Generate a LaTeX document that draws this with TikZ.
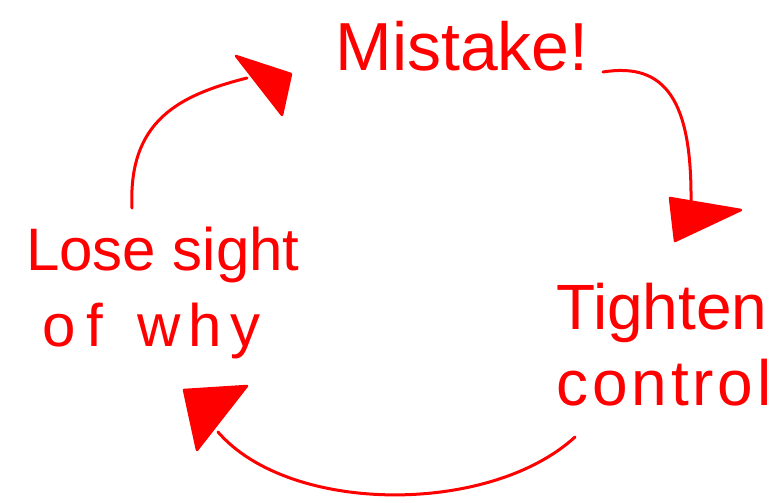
\documentclass[tikz,border=0pt]{standalone}
\usepackage{fontspec}
\setmainfont{Liberation Sans}
\begin{document}
\begin{tikzpicture}[x=1pt,y=-1pt,
  ink/.style={draw=red,line width=3pt,line cap=round},
  head/.style={fill=red,draw=red,line width=2.5pt,line join=round},
  lbl/.style={text=red,font=\fontsize{60}{76}\selectfont,align=left,inner sep=0pt}]
\useasboundingbox (0,0) rectangle (782,503);
\node[lbl,font=\fontsize{68}{80}\selectfont] (mistake) at (462,46) {Mistake!};
\node[lbl,font=\fontsize{64}{76}\selectfont] (tighten) at (664,345) {Tighten\\{\addfontfeature{LetterSpace=6}control}};
\node[lbl] (lose) at (163,293) {Lose sight\\\hspace*{16pt}{\addfontfeature{LetterSpace=18}of}\hspace{34pt}{\addfontfeature{LetterSpace=14}why}};
% arrowheads
\coordinate (h1a) at (670,198); \coordinate (h1b) at (741,210); \coordinate (h1c) at (675,241);
\coordinate (h2a) at (184,390); \coordinate (h2b) at (247,386); \coordinate (h2c) at (197,450);
\coordinate (h3a) at (236,56); \coordinate (h3b) at (291,74); \coordinate (h3c) at (282,115);
\draw[head] (h1a)--(h1b)--(h1c)--cycle;
\draw[head] (h2a)--(h2b)--(h2c)--cycle;
\draw[head] (h3a)--(h3b)--(h3c)--cycle;
% connectors
\coordinate (s1) at (603,72);
\coordinate (e1) at (691,202);
\coordinate (s2) at (575,437);
\coordinate (e2) at (218,432);
\coordinate (s3) at (132,208);
\coordinate (e3) at (247,78);
\draw[ink] (s1) .. controls (665,62) and (692,100) .. (e1);
\draw[ink] (s2) .. controls (490,515) and (290,515) .. (e2);
\draw[ink] (s3) .. controls (128,120) and (180,95) .. (e3);
\end{tikzpicture}
\end{document}
